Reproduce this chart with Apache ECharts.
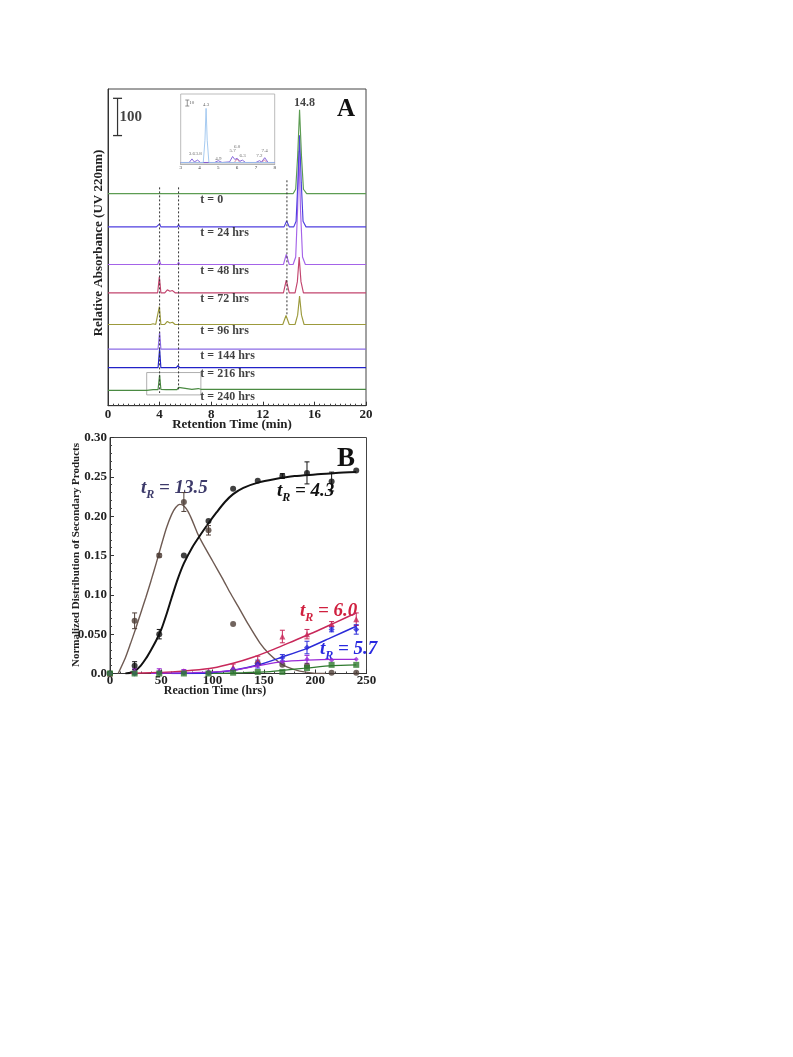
<!DOCTYPE html>
<html>
<head>
<meta charset="utf-8">
<script src="https://cdn.jsdelivr.net/npm/echarts@6/dist/echarts.min.js"></script>
<style>
html,body{margin:0;padding:0;background:#fff;}
#c{width:793px;height:1057px;}
</style>
</head>
<body>
<div id="c"></div>
<script>
// ---------------- Panel A data (retention time in min, absorbance heights above each baseline) ----------------
const traceNames = ['t = 0','t = 24 hrs','t = 48 hrs','t = 72 hrs','t = 96 hrs','t = 144 hrs','t = 216 hrs','t = 240 hrs'];
const traceBaselines = [569, 480, 379, 303, 218, 152, 102, 41];
const trace0 = [[0,0],[6.4,0],[6.5,2],[6.6,0],[14.35,0],[14.55,12],[14.7,100],[14.85,225],[15.0,100],[15.15,12],[15.4,0],[20,0]];
const trace24 = [[0,0],[3.55,0],[3.65,3],[3.75,0],[3.9,0],[4.0,8],[4.1,0],[4.7,0],[4.8,3],[4.9,0],[5.38,0],[5.47,6],[5.56,0],[13.65,0],[13.85,16],[14.05,0],[14.4,0],[14.58,15],[14.72,120],[14.85,246],[14.98,120],[15.12,15],[15.35,0],[20,0]];
const trace48 = [[0,0],[3.85,0],[3.97,12],[4.1,0],[4.6,0],[4.75,4],[4.9,0],[5.38,0],[5.47,6],[5.56,0],[6.7,0],[6.8,2],[6.9,0],[13.6,0],[13.82,27],[14.05,0],[14.35,0],[14.55,20],[14.7,150],[14.8,305],[14.92,150],[15.08,20],[15.3,0],[20,0]];
const trace72 = [[0,0],[3.85,0],[3.98,43],[4.1,0],[4.4,0],[4.6,8],[4.8,4],[5.0,6],[5.2,0],[5.4,0],[5.5,4],[5.6,0],[6.6,0],[6.75,3],[6.9,0],[13.6,0],[13.82,34],[14.05,0],[14.5,0],[14.68,30],[14.82,96],[14.96,30],[15.15,0],[20,0]];
const trace96 = [[0,0],[3.3,0],[3.5,2],[3.7,0],[3.85,0],[3.98,48],[4.1,0],[4.4,0],[4.6,8],[4.8,4],[5.0,6],[5.2,0],[5.4,0],[5.5,4],[5.6,0],[6.6,0],[6.75,3],[6.9,0],[13.55,0],[13.8,24],[14.05,0],[14.5,0],[14.7,25],[14.85,76],[15.0,25],[15.2,0],[20,0]];
const trace144 = [[0,0],[3.4,0],[3.5,3],[3.6,0],[3.88,0],[4.0,46],[4.1,0],[4.6,0],[4.7,3],[4.8,0],[5.3,0],[5.42,4],[5.55,0],[6.7,0],[6.8,3],[6.9,0],[9.0,0],[9.1,2],[9.2,0],[20,0]];
const trace216 = [[0,0],[3.4,0],[3.5,4],[3.6,0],[3.88,0],[4.0,51],[4.1,0],[4.6,0],[4.7,3],[4.8,0],[5.3,0],[5.42,6],[5.55,0],[6.7,0],[6.8,3],[6.9,0],[9.0,0],[9.1,2],[9.2,0],[11.3,0],[11.4,2],[11.5,0],[20,0]];
const trace240 = [[0,0],[3.0,0],[3.5,2],[3.88,2],[4.0,42],[4.1,3],[4.5,2],[5.35,2],[5.47,8],[5.6,3],[6.5,3],[7.0,5],[7.2,3],[9,3],[12.2,3],[12.3,5],[12.4,3],[20,3]];
const traces = [trace0, trace24, trace48, trace72, trace96, trace144, trace216, trace240];
const traceColors = ['#5c9c52','#4f3fe0','#a463e8','#c2456e','#9c9a3c','#8c6ce6','#2222c8','#4a8a42'];
const traceLabelX = 7.16;

// marker lines: [label, x, yTop, yBottom]
const markerLines = [['4.3', 4.0, 586, 34], ['5.7', 5.47, 586, 42], ['13.8', 13.87, 605, 242]];
const mainPeakLabel = ['14.8', 14.85, 794];
const scaleBarA = [[0.74, 725], [0.74, 825]];
const scaleBarALabel = '100';
const zoomBox = [[3.0,29],[7.2,29],[7.2,89],[3.0,89],[3.0,29]];
const xTicksA = {min:0, max:20, interval:4};

// ---------------- Inset data ----------------
const insetBlue = [[3,3],[4.2,3],[4.29,40],[4.35,93],[4.41,40],[4.5,3],[8,3]];
const insetPurple = [[3,3],[3.45,3],[3.6,9],[3.72,4],[3.9,7],[4.05,3],[4.8,3],[5.0,6],[5.2,3],[5.6,4],[5.76,13],[5.88,8],[6.0,10],[6.15,5],[6.28,7],[6.45,3],[7.0,3],[7.19,6],[7.3,4],[7.47,11],[7.65,3],[8,3]];
const insetPink = [[3,3],[3.5,3],[3.6,6],[3.7,3],[3.85,3],[3.95,5],[4.1,3],[5.85,3],[6.0,9],[6.15,3],[7.3,3],[7.45,7],[7.6,3],[8,3]];
const insetBand = [[3,4],[8,4]];
const insetPeakLabels = [['3.6',3.6,17],['3.8',3.95,17],['4.3',4.35,100],['4.9',5.0,10],['5.7',5.76,22],['6.0',6.0,30],['6.3',6.3,15],['7.2',7.19,15],['7.4',7.47,22]];
const insetScaleBar = [[3.35, 97], [3.35, 107]];
const insetScaleLabel = '10';

// ---------------- Panel B data ----------------
const reactionTimes = [0,24,48,72,96,120,144,168,192,216,240];
const val43 = [0,0.010,0.050,0.150,0.194,0.235,0.245,0.251,0.255,0.244,0.258];
const err43 = [0,0.005,0.006,0,0,0,0,0.003,0.014,0.012,0];
const val135 = [0,0.067,0.150,0.218,0.182,0.063,0.013,0.011,0.010,0.001,0.001];
const err135 = [0,0.010,0.002,0.012,0.006,0,0,0,0,0,0];
const val60 = [0,0.002,0.003,0.003,0.003,0.008,0.016,0.047,0.050,0.063,0.069];
const err60 = [0,0,0,0,0,0.004,0.006,0.008,0.006,0.003,0.008];
const val57 = [0,0,0.001,0.001,0.001,0.005,0.012,0.020,0.033,0.056,0.056];
const err57 = [0,0,0,0,0,0,0.005,0.004,0.008,0.003,0.006];
const valPurple = [0,0.003,0.003,0.003,0.002,0.005,0.010,0.015,0.018,0.017,0.018];
const errPurple = [0,0.003,0.003,0.002,0,0,0,0,0.005,0,0];
const valGreen = [0,0,0,0,0,0.001,0.002,0.002,0.007,0.011,0.011];
const curve43 = [[15,0],[20,0.001],[25,0.004],[30,0.010],[35,0.019],[40,0.030],[45,0.042],[50,0.056],[55,0.075],[60,0.096],[66,0.120],[72,0.140],[80,0.160],[88,0.176],[96,0.191],[104,0.205],[112,0.218],[120,0.228],[130,0.236],[145,0.243],[160,0.247],[180,0.251],[200,0.253],[220,0.255],[240,0.256]];
const curve135 = [[8,0],[15,0.02],[20,0.038],[25,0.057],[30,0.077],[35,0.097],[40,0.118],[45,0.140],[50,0.163],[55,0.185],[60,0.202],[64,0.211],[68,0.215],[72,0.213],[76,0.206],[80,0.195],[85,0.179],[90,0.166],[100,0.143],[110,0.120],[117,0.103],[125,0.085],[135,0.062],[146,0.039],[155,0.025],[165,0.014],[173,0.008],[185,0.003],[198,0.0005],[210,0]];
const curve60 = [[20,0],[40,0.001],[60,0.002],[80,0.004],[100,0.007],[120,0.013],[140,0.021],[160,0.031],[180,0.042],[200,0.053],[220,0.065],[240,0.077]];
const curve57 = [[60,0],[80,0],[100,0.001],[120,0.004],[145,0.011],[168,0.021],[192,0.032],[216,0.046],[240,0.060]];
const curvePurple = [[40,0],[80,0.001],[100,0.002],[120,0.004],[145,0.010],[168,0.015],[192,0.017],[216,0.018],[240,0.018]];
const curveGreen = [[100,0],[130,0.001],[150,0.002],[168,0.004],[192,0.007],[216,0.010],[240,0.011]];
const yTickLabelsB = {'0':'0.0','0.05':'0.050','0.1':'0.10','0.15':'0.15','0.2':'0.20','0.25':'0.25','0.3':'0.30'};

// ---------------- build ----------------
const SERIF = '"Liberation Serif","Times New Roman",serif';
const chart = echarts.init(document.getElementById('c'), null, {renderer:'canvas'});

const series = [];
for (let i = traces.length - 1; i >= 0; i--) {
  series.push({
    type:'line', xAxisIndex:0, yAxisIndex:0, showSymbol:false, silent:true,
    data: traces[i].map(p => [p[0], p[1] + traceBaselines[i]]),
    lineStyle:{color:traceColors[i], width:1.15}, z:3
  });
}
series.push({
  type:'scatter', xAxisIndex:0, yAxisIndex:0, symbolSize:0, silent:true,
  data: traceNames.map((n,i) => ({name:n, value:[traceLabelX, traceBaselines[i]]})),
  label:{show:true, formatter:p=>p.name, position:'right', distance:0, offset:[0,6.5],
    fontFamily:SERIF, fontWeight:'bold', fontSize:12, color:'#111'}, z:5
});
markerLines.forEach(m => {
  series.push({
    type:'line', xAxisIndex:0, yAxisIndex:0, silent:true, symbol:'none',
    data:[{value:[m[1], m[2]], label:{show:true, formatter:m[0], position:'top', distance:2, offset:m[0]==='13.8'?[-3,0]:[-1,0],
      fontFamily:SERIF, fontSize:12, color:'#222'}}, [m[1], m[3]]],
    lineStyle:{color:'#333', width:1, type:[2,2]}, z:4
  });
});
series.push({
  type:'scatter', xAxisIndex:0, yAxisIndex:0, symbolSize:0, silent:true,
  data:[{value:[mainPeakLabel[1], mainPeakLabel[2]], name:mainPeakLabel[0]}],
  label:{show:true, formatter:p=>p.name, position:'top', distance:1, offset:[5,0], fontFamily:SERIF, fontWeight:'bold', fontSize:12, color:'#111'}
});
series.push({
  type:'line', xAxisIndex:0, yAxisIndex:0, silent:true, data:scaleBarA, symbol:'rect', symbolSize:[9,1.3],
  itemStyle:{color:'#333'}, lineStyle:{color:'#333', width:1.2}
});
series.push({
  type:'scatter', xAxisIndex:0, yAxisIndex:0, symbolSize:0, silent:true,
  data:[{value:[scaleBarA[0][0], (scaleBarA[0][1]+scaleBarA[1][1])/2], name:scaleBarALabel}],
  label:{show:true, formatter:p=>p.name, position:'right', distance:2, fontFamily:SERIF, fontWeight:'bold', fontSize:15, color:'#111'}
});
series.push({
  type:'line', xAxisIndex:0, yAxisIndex:0, silent:true, symbol:'none', data:zoomBox,
  lineStyle:{color:'#9a9a9a', width:0.8}, z:2
});
// Inset
series.push({type:'line', xAxisIndex:1, yAxisIndex:1, silent:true, symbol:'none', data:insetBand,
  lineStyle:{width:0}, areaStyle:{color:'#cfcfcf'}, z:2});
[[insetPink,'#d77a99'],[insetPurple,'#7b5ad8'],[insetBlue,'#9cc4ee']].forEach(([d,c]) => {
  series.push({type:'line', xAxisIndex:1, yAxisIndex:1, silent:true, symbol:'none', data:d, lineStyle:{color:c, width:0.9}, z:3});
});
series.push({
  type:'scatter', xAxisIndex:1, yAxisIndex:1, symbolSize:0, silent:true,
  data: insetPeakLabels.map(l => ({name:l[0], value:[l[1], l[2]]})),
  label:{show:true, formatter:p=>p.name, position:'inside', fontFamily:SERIF, fontSize:5, color:'#444'}
});
series.push({
  type:'line', xAxisIndex:1, yAxisIndex:1, silent:true, data:insetScaleBar, symbol:'rect', symbolSize:[4,0.8],
  itemStyle:{color:'#777'}, lineStyle:{color:'#777', width:0.8}
});
series.push({
  type:'scatter', xAxisIndex:1, yAxisIndex:1, symbolSize:0, silent:true,
  data:[{value:[insetScaleBar[0][0], (insetScaleBar[0][1]+insetScaleBar[1][1])/2], name:insetScaleLabel}],
  label:{show:true, formatter:p=>p.name, position:'right', distance:2, fontFamily:SERIF, fontSize:5, color:'#333'}
});

// Panel B curves
const curves = [[curve135,'#6e5a52',1.4],[curve43,'#111111',2],[curve60,'#c8285a',1.5],[curve57,'#2b2bd8',1.5],[curvePurple,'#9a2ad8',1.2],[curveGreen,'#2f7a2f',1.2]];
curves.forEach(([d,c,w]) => {
  series.push({type:'line', xAxisIndex:2, yAxisIndex:2, silent:true, symbol:'none', smooth:0.25, data:d, lineStyle:{color:c, width:w}, z:3});
});
const pointSets = [
  [val135, err135, '#4d3d36', 'circle', 6],
  [val43, err43, '#111111', 'circle', 6],
  [val60, err60, '#c8285a', 'triangle', 6],
  [val57, err57, '#2b2bd8', 'diamond', 6],
  [valPurple, errPurple, '#9a2ad8', 'diamond', 5],
  [valGreen, valGreen.map(()=>0), '#2f7a2f', 'rect', 6]
];
pointSets.forEach(([vals, errs, color, sym, size]) => {
  series.push({
    type:'custom', xAxisIndex:2, yAxisIndex:2, silent:true, z:4,
    data: reactionTimes.map((t,i) => [t, vals[i], errs[i]]).filter(d => d[2] > 0),
    renderItem: (params, api) => {
      const x = api.value(0), y = api.value(1), e = api.value(2);
      const top = api.coord([x, y + e]), bot = api.coord([x, y - e]);
      const w = 2.5;
      const st = {stroke: color, lineWidth: 1};
      return {type:'group', children:[
        {type:'line', shape:{x1:top[0], y1:top[1], x2:bot[0], y2:bot[1]}, style:st},
        {type:'line', shape:{x1:top[0]-w, y1:top[1], x2:top[0]+w, y2:top[1]}, style:st},
        {type:'line', shape:{x1:bot[0]-w, y1:bot[1], x2:bot[0]+w, y2:bot[1]}, style:st}
      ]};
    }
  });
  series.push({
    type:'scatter', xAxisIndex:2, yAxisIndex:2, silent:true, z:5,
    data: reactionTimes.map((t,i) => [t, vals[i]]),
    symbol: sym, symbolSize: size, itemStyle:{color: color}
  });
});

const axisLabelStyle = {fontFamily:SERIF, fontWeight:'bold', fontSize:13, color:'#222'};
const richLabel = (color) => ({
  t:{fontFamily:SERIF, fontStyle:'italic', fontWeight:'bold', fontSize:19, fill:color, lineHeight:26},
  s:{fontFamily:SERIF, fontStyle:'italic', fontWeight:'bold', fontSize:12, fill:color, lineHeight:20, verticalAlign:'bottom'},
  v:{fontFamily:SERIF, fontStyle:'italic', fontWeight:'bold', fontSize:19, fill:color, lineHeight:26}
});
const option = {
  backgroundColor:'#ffffff',
  animation:false,
  grid:[
    {left:108, top:89, width:258, height:316.7, show:true, borderColor:'#444', borderWidth:1, containLabel:false},
    {left:180.7, top:94, width:94, height:70.3, show:true, borderColor:'#aaa', borderWidth:0.8, backgroundColor:'#fff', containLabel:false, z:1},
    {left:110, top:437.5, width:256.5, height:236, show:true, borderColor:'#444', borderWidth:1, containLabel:false}
  ],
  xAxis:[
    {gridIndex:0, type:'value', min:xTicksA.min, max:xTicksA.max, interval:xTicksA.interval,
      axisLine:{show:true, lineStyle:{color:'#333', width:1}}, axisTick:{show:true, inside:true, length:4, lineStyle:{color:'#333'}},
      minorTick:{show:true, splitNumber:10, length:2, lineStyle:{color:'#444'}}, splitLine:{show:false},
      axisLabel:Object.assign({margin:2}, axisLabelStyle)},
    {gridIndex:1, type:'value', min:3, max:8, interval:1,
      axisLine:{show:true, lineStyle:{color:'#999', width:0.8}}, axisTick:{show:true, inside:true, length:2, lineStyle:{color:'#999'}},
      splitLine:{show:false}, axisLabel:{margin:1, fontFamily:SERIF, fontSize:5, color:'#333'}},
    {gridIndex:2, type:'value', min:0, max:250, interval:50,
      axisLine:{show:true, lineStyle:{color:'#333', width:1}}, axisTick:{show:true, inside:true, length:4, lineStyle:{color:'#333'}},
      minorTick:{show:true, splitNumber:5, length:2, lineStyle:{color:'#444'}}, splitLine:{show:false},
      axisLabel:Object.assign({margin:1}, axisLabelStyle)}
  ],
  yAxis:[
    {gridIndex:0, type:'value', min:0, max:850, axisLine:{show:true, lineStyle:{color:'#333'}}, axisTick:{show:false}, axisLabel:{show:false}, splitLine:{show:false}},
    {gridIndex:1, type:'value', min:0, max:117, axisLine:{show:false}, axisTick:{show:false}, axisLabel:{show:false}, splitLine:{show:false}},
    {gridIndex:2, type:'value', min:0, max:0.30, interval:0.05,
      axisLine:{show:true, lineStyle:{color:'#333', width:1}}, axisTick:{show:true, inside:true, length:4, lineStyle:{color:'#333'}},
      minorTick:{show:true, splitNumber:5, length:2, lineStyle:{color:'#444'}}, splitLine:{show:false},
      axisLabel:Object.assign({margin:3, formatter:v => yTickLabelsB[String(Math.round(v*100)/100)] || ''}, axisLabelStyle)}
  ],
  graphic:[
    {type:'text', x:346, y:110, style:{text:'A', font:'bold 25px '+SERIF, fill:'#111', align:'center', verticalAlign:'middle'}},
    {type:'text', x:346, y:459, style:{text:'B', font:'bold 27px '+SERIF, fill:'#111', align:'center', verticalAlign:'middle'}},
    {type:'text', x:98.5, y:243, rotation:Math.PI/2, style:{text:'Relative Absorbance (UV 220nm)', font:'bold 13px '+SERIF, fill:'#222', align:'center', verticalAlign:'middle'}},
    {type:'text', x:232, y:424.5, style:{text:'Retention Time (min)', font:'bold 13px '+SERIF, fill:'#222', align:'center', verticalAlign:'middle'}},
    {type:'text', x:76.5, y:555, rotation:Math.PI/2, style:{text:'Normalized Distribution of Secondary Products', font:'bold 11px '+SERIF, fill:'#222', align:'center', verticalAlign:'middle'}},
    {type:'text', x:215, y:691, style:{text:'Reaction Time (hrs)', font:'bold 12px '+SERIF, fill:'#222', align:'center', verticalAlign:'middle'}},
    {type:'text', x:141, y:488, style:{text:'{t|t}{s|R}{v| = 13.5}', align:'left', verticalAlign:'middle', rich:richLabel('#3d3a6a')}},
    {type:'text', x:277, y:491, style:{text:'{t|t}{s|R}{v| = 4.3}', align:'left', verticalAlign:'middle', rich:richLabel('#111')}},
    {type:'text', x:300, y:611, style:{text:'{t|t}{s|R}{v| = 6.0}', align:'left', verticalAlign:'middle', rich:richLabel('#d0203f')}},
    {type:'text', x:320, y:649, style:{text:'{t|t}{s|R}{v| = 5.7}', align:'left', verticalAlign:'middle', rich:richLabel('#2a2ae0')}}
  ],
  series: series
};
chart.setOption(option);
</script>
</body>
</html>
